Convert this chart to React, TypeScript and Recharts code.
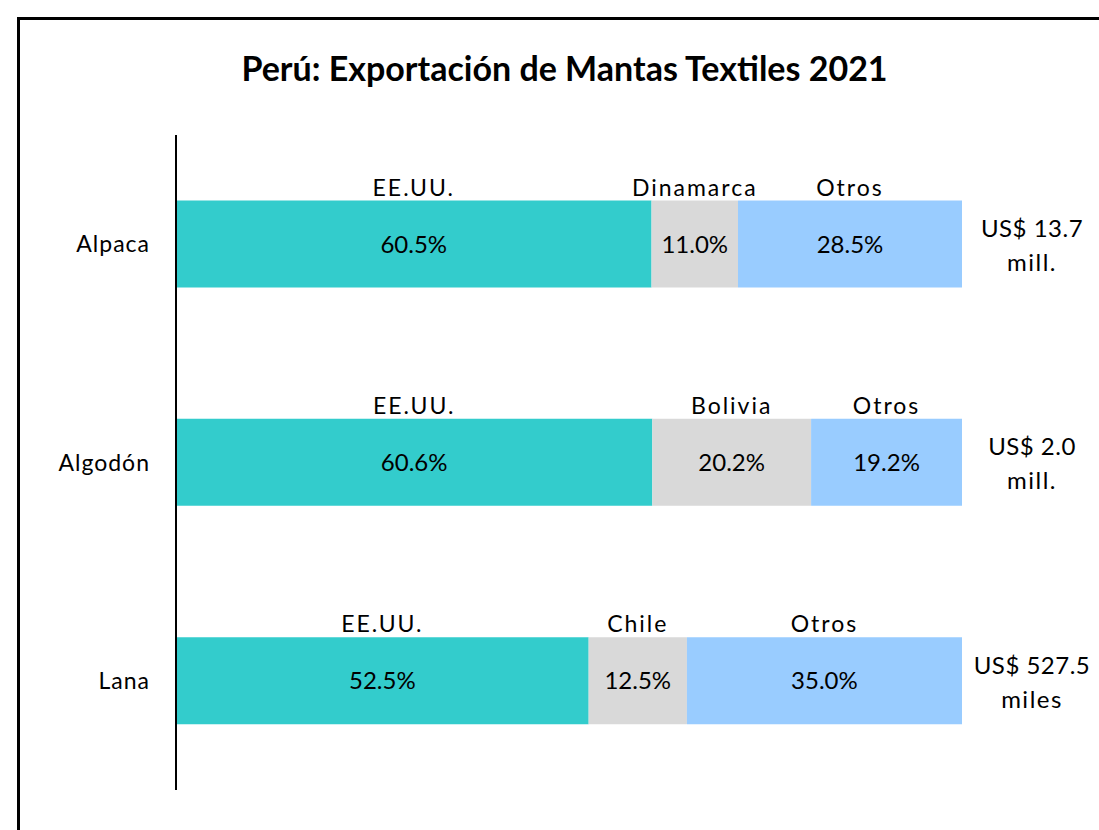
import React from "react";
import { BarChart, Bar, XAxis, YAxis, LabelList } from "recharts";

const categories = ["Alpaca", "Algodón", "Lana"];
const usaShare = [60.5, 60.6, 52.5];
const secondShare = [11.0, 20.2, 12.5];
const otherShare = [28.5, 19.2, 35.0];
const usaNames = ["EE.UU.", "EE.UU.", "EE.UU."];
const secondNames = ["Dinamarca", "Bolivia", "Chile"];
const otherNames = ["Otros", "Otros", "Otros"];
const totalAmounts = ["US$ 13.7", "US$ 2.0", "US$ 527.5"];
const totalUnits = ["mill.", "mill.", "miles"];

const data = categories.map((name, i) => ({
  name,
  usa: usaShare[i],
  second: secondShare[i],
  other: otherShare[i],
}));

const FONT = "Lato, 'Open Sans', sans-serif";

const pct = (v: any) => `${Number(v).toFixed(1)}%`;

const nameLabel = (names: string[]) => (props: any) => {
  const { x, y, width, index } = props;
  return (
    <text
      x={Number(x) + Number(width) / 2}
      y={Number(y) - 5}
      textAnchor="middle"
      fontSize={23}
      fill="#000"
      fontFamily={FONT}
      letterSpacing={2}
    >
      {names[index]}
    </text>
  );
};

const totalLabel = (props: any) => {
  const { x, y, width, height, index } = props;
  const cx = Number(x) + Number(width) + 70;
  const cy = Number(y) + Number(height) / 2;
  return (
    <g>
      <text x={cx} y={cy - 7} textAnchor="middle" fontSize={24} fill="#000" fontFamily={FONT} letterSpacing={0.5}>
        {totalAmounts[index]}
      </text>
      <text x={cx} y={cy + 27} textAnchor="middle" fontSize={24} fill="#000" fontFamily={FONT} letterSpacing={1.5}>
        {totalUnits[index]}
      </text>
    </g>
  );
};

export default function App() {
  return (
    <div
      style={{
        position: "fixed",
        left: 0,
        top: 0,
        width: 1099,
        height: 830,
        overflow: "hidden",
        background: "#fff",
        fontFamily: FONT,
      }}
    >
      <div
        style={{
          position: "absolute",
          left: 17,
          top: 17,
          width: 1200,
          height: 900,
          border: "3px solid #000",
          boxSizing: "border-box",
        }}
      />
      <div
        style={{
          position: "absolute",
          left: 0,
          top: 47,
          width: 1129,
          textAlign: "center",
          fontSize: 34,
          lineHeight: "42px",
          fontWeight: 700,
          color: "#000",
          fontFamily: FONT,
        }}
      >
        Perú: Exportación de Mantas Textiles 2021
      </div>
      <div style={{ position: "absolute", left: 0, top: 0 }}>
        <BarChart
          width={1099}
          height={830}
          data={data}
          layout="vertical"
          margin={{ top: 135, right: 137, bottom: 40, left: 0 }}
          barCategoryGap="30%"
        >
          <XAxis type="number" domain={[0, 100]} hide />
          <YAxis
            type="category"
            dataKey="name"
            width={176}
            axisLine={{ stroke: "#000", strokeWidth: 2 }}
            tickLine={false}
            tickSize={0}
            tickMargin={26}
            tick={{ fill: "#000", fontSize: 23, fontFamily: FONT, letterSpacing: 1 }}
          />
          <Bar dataKey="usa" stackId="a" fill="#33CCCC" isAnimationActive={false}>
            <LabelList dataKey="usa" position="center" formatter={pct} fill="#000" fontSize={24} fontFamily={FONT} />
            <LabelList dataKey="usa" content={nameLabel(usaNames)} />
          </Bar>
          <Bar dataKey="second" stackId="a" fill="#D9D9D9" isAnimationActive={false}>
            <LabelList dataKey="second" position="center" formatter={pct} fill="#000" fontSize={24} fontFamily={FONT} />
            <LabelList dataKey="second" content={nameLabel(secondNames)} />
          </Bar>
          <Bar dataKey="other" stackId="a" fill="#99CCFF" isAnimationActive={false}>
            <LabelList dataKey="other" position="center" formatter={pct} fill="#000" fontSize={24} fontFamily={FONT} />
            <LabelList dataKey="other" content={nameLabel(otherNames)} />
            <LabelList dataKey="other" content={totalLabel} />
          </Bar>
        </BarChart>
      </div>
    </div>
  );
}
